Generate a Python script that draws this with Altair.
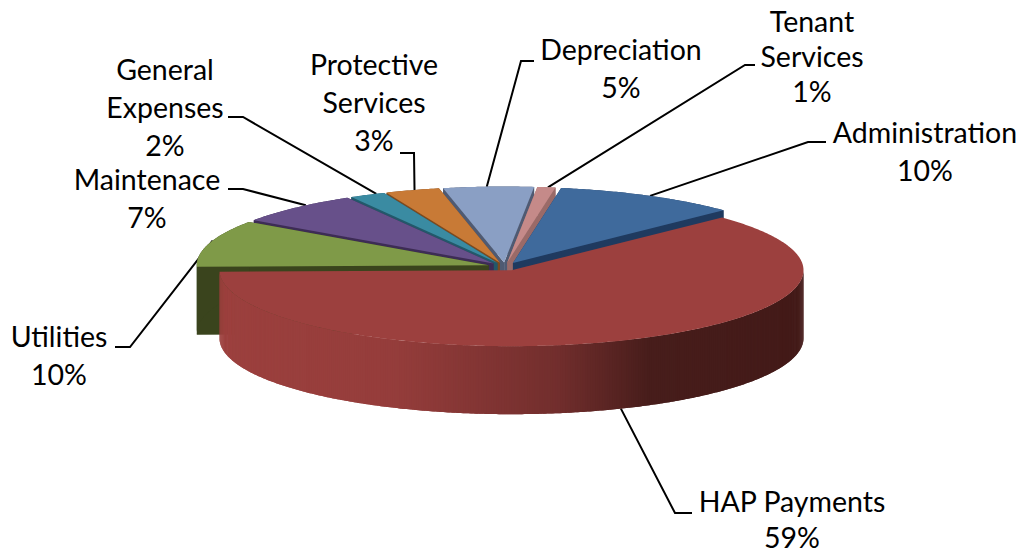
import numpy as np
import pandas as pd
import altair as alt

names = ["Administration", "HAP Payments", "Utilities", "Maintenace",
         "General Expenses", "Protective Services", "Depreciation", "Tenant Services"]
# sweep of each slice as measured on the picture (printed percentages are in label_lines)
values = [10.2, 62, 10, 7, 2, 3, 5, 1]
top_colors = ["#3f6a9c", "#9c403e", "#7f9a48", "#67508a", "#3a8ba2", "#c87a36", "#8a9fc4", "#c58a89"]
wall_colors = ["#1f3a5f", "#6a2a28", "#3a441d", "#3d2c55", "#23586a", "#7c4a1f", "#4f5a72", "#9a6a68"]
draw_order = [6, 7, 5, 4, 3, 2, 0]  # slices behind the large one, back to front
big = 1

label_lines = [["Administration", "10%"], ["HAP Payments", "59%"], ["Utilities", "10%"],
               ["Maintenace", "7%"], ["General", "Expenses", "2%"],
               ["Protective", "Services", "3%"], ["Depreciation", "5%"],
               ["Tenant", "Services", "1%"]]
label_center = [(925, 134), (792, 503), (59, 338), (147, 181), (165, 71), (374, 66), (621, 51), (812, 23)]
line_gaps = [38, 36, 38, 38, 38, 38, 38, 35]
leader_elbow = [[(808, 142), (826, 142)], [(675, 513), (692, 513)], [(130, 347), (115, 347)],
                [(243, 189), (228, 189)], [(243, 117), (228, 117)], [(414, 153), (400, 153)],
                [(521, 61), (534, 61)], [(745, 65), (755, 65)]]
leader_angle = [28, 158, 289, 320, 335.5, 343, 356.6, 8]
shade_stops = [0, 0.3, 0.58, 0.74, 1]
shade_colors = ["#9c403e", "#953d3b", "#722e2d", "#471d1b", "#431a18"]

# pie geometry in page pixels
CX, CY, A, B, DEPTH = 505, 266.5, 292, 76, 68
EX, EY, START = 17, 4, 9.5

shares = np.array(values, float) / sum(values) * 360
starts = START + np.concatenate([[0], np.cumsum(shares)[:-1]])

def centre(i):
    mid = np.radians(starts[i] + shares[i] / 2)
    return CX + EX * np.sin(mid), CY - EY * np.cos(mid)

def arc(i, lo=None, hi=None):
    cx, cy = centre(i)
    lo = starts[i] if lo is None else lo
    hi = starts[i] + shares[i] if hi is None else hi
    t = np.radians(np.linspace(lo, hi, max(3, int(abs(hi - lo) * 2))))
    return np.c_[cx + A * np.sin(t), cy - B * np.cos(t)]

rows, pid = [], 0
def poly(points, color):
    global pid
    for k, (x, y) in enumerate(points):
        rows.append(dict(x=float(x), y=float(y), piece=f"{pid:05d}", k=k, col=color))
    pid += 1

def add_slice(i, walls=True):
    cx, cy = centre(i)
    rim = arc(i)
    d = np.array([0, DEPTH])
    if walls:
        apex = np.array([cx, cy])
        poly([apex, rim[0], rim[0] + d, apex + d], wall_colors[i])
        poly([apex, rim[-1], rim[-1] + d, apex + d], wall_colors[i])
        poly(list(rim) + list((rim + d)[::-1]), wall_colors[i])
    poly([(cx, cy)] + list(rim), top_colors[i])

def shade(frac):
    rgb = [[int(c[j:j + 2], 16) for j in (1, 3, 5)] for c in shade_colors]
    vals = [np.interp(frac, shade_stops, [r[n] for r in rgb]) for n in range(3)]
    return "#%02x%02x%02x" % tuple(int(round(v)) for v in vals)

for i in draw_order:
    add_slice(i)

# front wall of the big slice, drawn right to left in narrow shaded strips
front_arc = arc(big, 90, starts[big] + shares[big])
x_lo, x_hi = front_arc[:, 0].min(), front_arc[:, 0].max()
for k in range(len(front_arc) - 1):
    seg = front_arc[k:k + 3]
    poly(list(seg) + list((seg + [0, DEPTH])[::-1]), shade((seg[0, 0] - x_lo) / (x_hi - x_lo)))
add_slice(big, walls=False)
shapes = pd.DataFrame(rows)

text_rows, lead_rows = [], []
for i, lines in enumerate(label_lines):
    for j, s in enumerate(lines):
        text_rows.append(dict(x=label_center[i][0], y=label_center[i][1] + j * line_gaps[i], t=s, key=f"{i}-{j}"))
    cx, cy = centre(i)
    t = np.radians(leader_angle[i])
    rx, ry = cx + A * np.sin(t), cy - B * np.cos(t)
    if i == big:
        ry += DEPTH
    pts = [(rx, ry)] + leader_elbow[i]
    for k, (x, y) in enumerate(pts):
        lead_rows.append(dict(x=x, y=y, who=i, k=k))

X = alt.X("x:Q", scale=alt.Scale(domain=[8, 1021], range=[0, 1013]), axis=None)
Y = alt.Y("y:Q", scale=alt.Scale(domain=[8, 553], range=[0, 545]), axis=None)

faces = alt.Chart(alt.Data(values=shapes.to_dict("records"))).mark_line(
    interpolate="linear-closed", strokeWidth=0).encode(
    X, Y, fill=alt.Fill("col:N", scale=None), detail="piece:N", order="k:Q")

leaders = alt.Chart(pd.DataFrame(lead_rows)).mark_line(color="black", strokeWidth=2).encode(
    X, Y, detail="who:N", order="k:Q")
texts = alt.Chart(pd.DataFrame(text_rows)).mark_text(
    font="Lato", fontSize=28.5, color="black", align="center", baseline="middle").encode(X, Y, text="t:N", detail="key:N")

chart = alt.layer(leaders, faces, texts).properties(
    width=1013, height=545, padding=0, autosize=alt.AutoSizeParams(type="none"),
).configure_view(stroke=None)
chart.save("out.html", embed_options={"renderer": "svg", "actions": False})
